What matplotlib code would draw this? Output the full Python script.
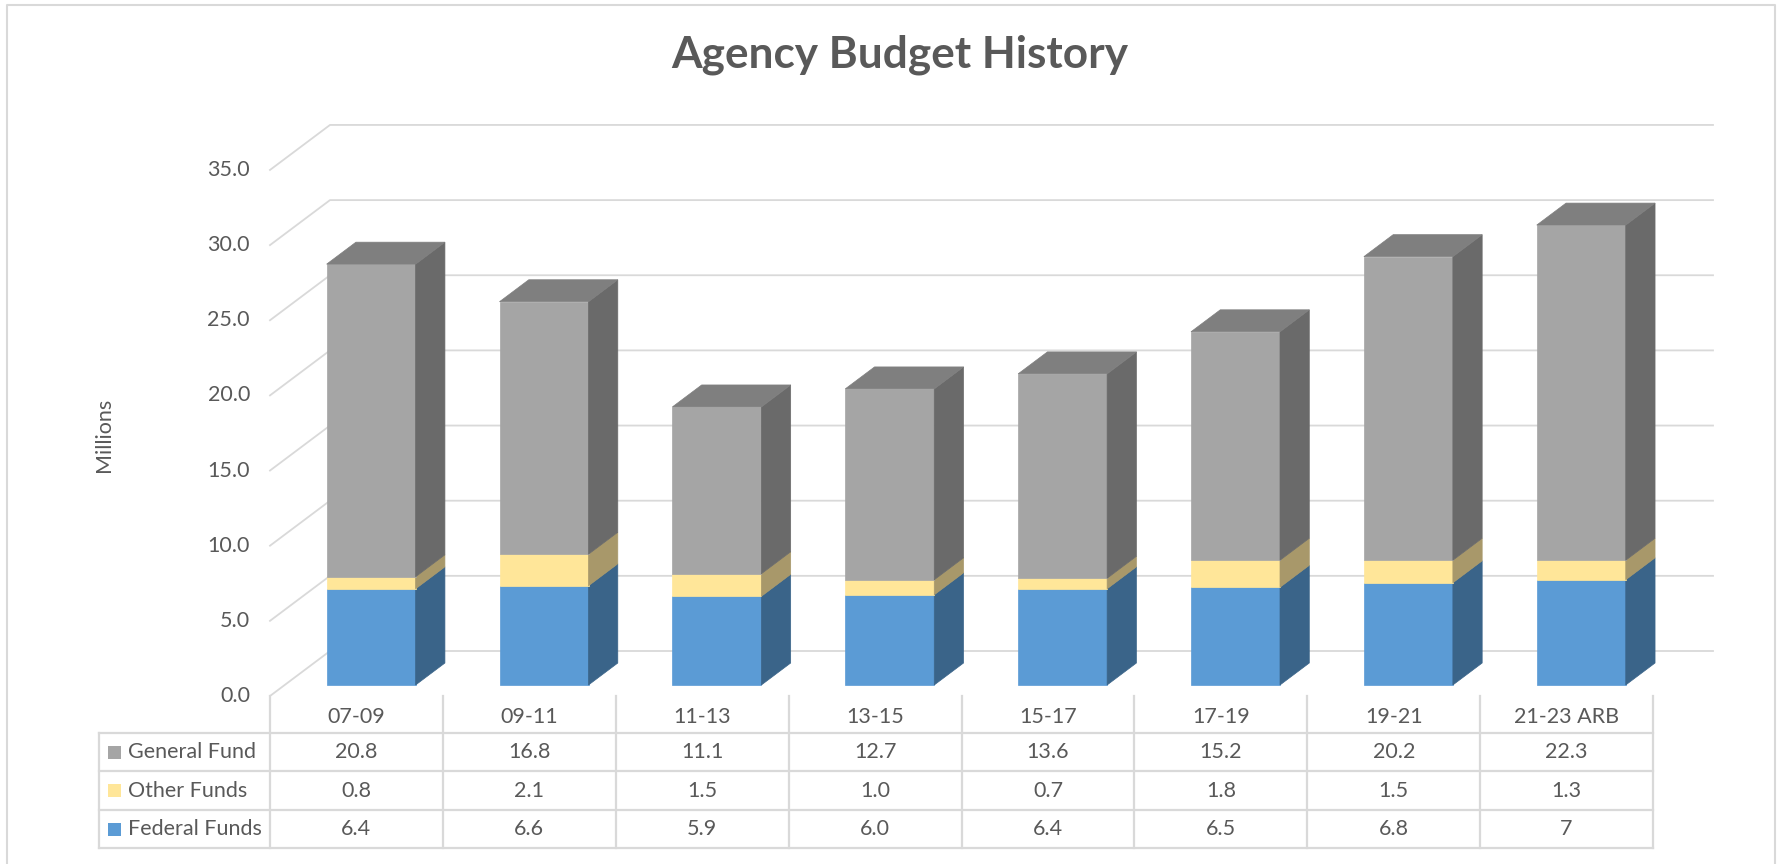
import numpy as np
import matplotlib.pyplot as plt
import matplotlib.transforms as mtransforms
from matplotlib.patches import Polygon, Rectangle

plt.rcParams['font.family'] = ['Lato', 'DejaVu Sans']

periods = ["07-09", "09-11", "11-13", "13-15", "15-17", "17-19", "19-21", "21-23 ARB"]
general = [20.8, 16.8, 11.1, 12.7, 13.6, 15.2, 20.2, 22.3]
other = [0.8, 2.1, 1.5, 1.0, 0.7, 1.8, 1.5, 1.3]
federal = [6.4, 6.6, 5.9, 6.0, 6.4, 6.5, 6.8, 7]
y_ticks = [0, 5, 10, 15, 20, 25, 30, 35]

txt_c = '#595959'
grid_c = '#D9D9D9'

W, H = 1787, 864
fig = plt.figure(figsize=(W / 100, H / 100), dpi=100)
ax = fig.add_axes([0, 0, 1, 1])
ax.axis('off')

# front plane: categories 0..8 over px 270..1653, value 0 at py 696
x0_px, col_px = 270, (1653 - 270) / 8
y0_px, unit_px = 696, 15.03
ax.set_xlim(-x0_px / col_px, (W - x0_px) / col_px)
ax.set_ylim((y0_px - H) / unit_px, y0_px / unit_px)

# oblique depth, full depth = 60px right / 45px up
DX, DY = 60 / col_px, 45 / unit_px


def proj(x, y, z):
    return (x + z * DX, y + z * DY)


# pixel coords from top-left, for layout things (table, titles)
pix = mtransforms.Affine2D().scale(1 / W, -1 / H).translate(0, 1) + fig.transFigure
xpix = mtransforms.blended_transform_factory(ax.transData, pix)

# walls / gridlines
lab_tr = mtransforms.offset_copy(ax.transData, fig, x=-20, y=0, units='dots')
for v in y_ticks:
    pts = [proj(0, v, 0), proj(0, v, 1), proj(8, v, 1)]
    ax.plot([p[0] for p in pts], [p[1] for p in pts], color=grid_c, lw=1.3, zorder=1)
    ax.text(0, v, f"{v:.1f}", transform=lab_tr, ha='right', va='center',
            fontsize=15.5, color=txt_c)

# bars
zf, zb = 0.245, 0.733
bw = 89 / col_px
styles = [
    (federal, '#5B9BD5', '#3A6489', '#4A80B3'),
    (other, '#FFE699', '#A8986A', '#D9C47F'),
    (general, '#A5A5A5', '#6A6A6A', '#7F7F7F'),
]
for i in range(len(periods)):
    left = i + 0.5 - bw / 2
    right = left + bw
    base = 0
    for k, (vals, cf, cs, ct) in enumerate(styles):
        top = base + vals[i]
        front = [proj(left, base, zf), proj(right, base, zf), proj(right, top, zf), proj(left, top, zf)]
        side = [proj(right, base, zf), proj(right, base, zb), proj(right, top, zb), proj(right, top, zf)]
        ax.add_patch(Polygon(front, closed=True, fc=cf, ec=cf, lw=0.5, zorder=3))
        ax.add_patch(Polygon(side, closed=True, fc=cs, ec=cs, lw=0.5, zorder=3))
        if k == len(styles) - 1:
            lid = [proj(left, top, zf), proj(right, top, zf), proj(right, top, zb), proj(left, top, zb)]
            ax.add_patch(Polygon(lid, closed=True, fc=ct, ec=ct, lw=0.5, zorder=3))
        base = top

# data table
tab_left = (99 - x0_px) / col_px
head_top, tab_top, row_h = 696, 733, 38.4
n = len(periods)
tab_lw = 1.6
ax.plot([tab_left, n], [tab_top, tab_top], transform=xpix, color=grid_c, lw=tab_lw, zorder=1)
for r in range(1, 4):
    yy = tab_top + r * row_h
    ax.plot([tab_left, n], [yy, yy], transform=xpix, color=grid_c, lw=tab_lw, zorder=1)
ax.plot([tab_left, tab_left], [tab_top, tab_top + 3 * row_h], transform=xpix,
        color=grid_c, lw=tab_lw, zorder=1)
for i in range(n + 1):
    ax.plot([i, i], [head_top, tab_top + 3 * row_h], transform=xpix,
            color=grid_c, lw=tab_lw, zorder=1)

for i, p in enumerate(periods):
    ax.text(i + 0.5, 717, p, transform=xpix, ha='center', va='center',
            fontsize=15.5, color=txt_c)


def fmt(v):
    return str(v) if isinstance(v, int) else f"{v:.1f}"


rows = [("General Fund", general, '#A5A5A5'),
        ("Other Funds", other, '#FFE699'),
        ("Federal Funds", federal, '#5B9BD5')]
for r, (name, vals, col) in enumerate(rows):
    yc = tab_top + (r + 0.5) * row_h
    ax.add_patch(Rectangle((108, yc - 6.5), 13, 13, transform=pix, fc=col, ec='none'))
    ax.text(128, yc, name, transform=pix, ha='left', va='center', fontsize=15.5, color=txt_c)
    for i, v in enumerate(vals):
        ax.text(i + 0.5, yc, fmt(v), transform=xpix, ha='center', va='center',
                fontsize=15.5, color=txt_c)

# titles
ax.text(900, 55, "Agency Budget History", transform=pix, ha='center', va='center',
        fontsize=31.8, fontweight='bold', color=txt_c)
ax.text(104, 435, "Millions", transform=pix, ha='center', va='center', rotation=90,
        fontsize=15.5, color=txt_c)

# chart border
ax.plot([7, 7, 1775, 1775], [H, 5, 5, H], transform=pix, color=grid_c, lw=1.5, zorder=0)

fig.savefig("out.png", dpi=100)
